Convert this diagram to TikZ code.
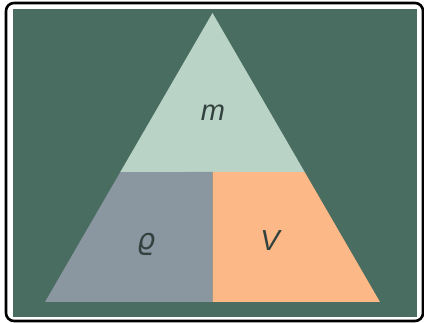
\documentclass[tikz,border=0pt]{standalone}
\usepackage{fontspec}
\setsansfont{Liberation Sans}
\newfontfamily\rhofont{DejaVu Sans}
\usetikzlibrary{calc}
\definecolor{fondoVerde}{HTML}{4A6D61}
\definecolor{verdeClaro}{HTML}{B9D3C6}
\definecolor{grisAzul}{HTML}{8A96A0}
\definecolor{naranja}{HTML}{FCB886}
\definecolor{textoOscuro}{HTML}{33423F}

\begin{document}
\begin{tikzpicture}[
        x=1pt, y=-1pt,
        marco/.style={draw=black, line width=2.6pt, rounded corners=8pt},
        etiqueta/.style={text=textoOscuro, font=\sffamily\itshape\fontsize{29}{29}\selectfont}
    ]
        \useasboundingbox (0,0) rectangle (424,323);
        \draw[marco, fill=white] (6,3) rectangle (423,321);
        \fill[fondoVerde] (13,9) rectangle (417,317);

        % vertices del triangulo
        \coordinate (cima) at (212.5,13);
        \coordinate (izq) at (45,302);
        \coordinate (der) at (380,302);
        \coordinate (corteIzq) at ($(cima)!0.5502!(izq)$);
        \coordinate (corteDer) at ($(cima)!0.5502!(der)$);
        \coordinate (centroArr) at (212.5,172);
        \coordinate (centroAb) at (212.5,302);

        \fill[verdeClaro] (cima) -- (corteDer) -- (corteIzq) -- cycle;
        \fill[grisAzul] (corteIzq) -- (centroArr) -- (centroAb) -- (izq) -- cycle;
        \fill[naranja] (centroArr) -- (corteDer) -- (der) -- (centroAb) -- cycle;

        \node[etiqueta] (masa) at (213,113) {m};
        \node[etiqueta] (densidad) at (146,244) {\rhofont\itshape ϱ};
        \node[etiqueta] (volumen) at (270,241) {V};
    \end{tikzpicture}
\end{document}
